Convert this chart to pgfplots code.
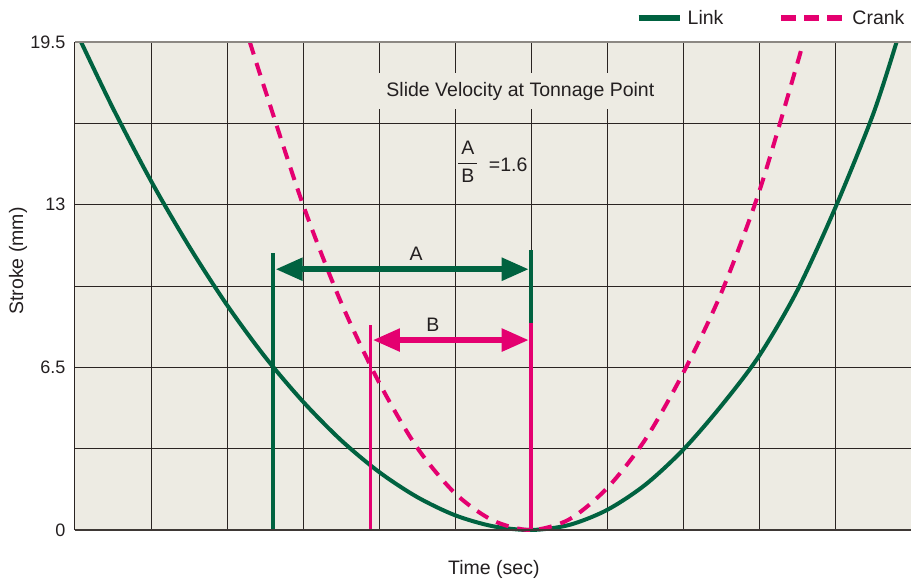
\documentclass[border=0pt]{standalone}
\usepackage{fontspec}
\setmainfont{Liberation Sans}
\usepackage{pgfplots}
\pgfplotsset{compat=1.18}
\usetikzlibrary{arrows.meta,calc}

\definecolor{linkgreen}{RGB}{0,98,64}
\definecolor{crankpink}{RGB}{228,0,112}
\definecolor{bgc}{RGB}{237,235,227}
\definecolor{txt}{RGB}{35,31,32}
\definecolor{gridc}{RGB}{42,36,34}
\definecolor{framec}{RGB}{140,136,131}

\newcommand{\bigfont}{\fontsize{19.5}{22}\selectfont}

\begin{document}
\begin{tikzpicture}
\begin{axis}[
    name=ax,
    scale only axis,
    width=836pt, height=488pt,
    xmin=0, xmax=11, ymin=0, ymax=19.5,
    axis background/.style={fill=bgc},
    axis line style={draw=none},
    xtick={1,2,...,10}, xticklabels={},
    ytick={0,3.25,6.5,9.75,13,16.25,19.5},
    yticklabels={0,,6.5,,13,,19.5},
    major tick length=0pt,
    grid=major,
    grid style={color=gridc, line width=0.9pt},
    tick label style={font=\fontsize{18}{20}\selectfont, text=txt},
    /pgf/number format/assume math mode=true,
    yticklabel style={xshift=-6pt},
    xlabel={Time (sec)},
    ylabel={Stroke (mm)},
    label style={font=\bigfont, text=txt},
    xlabel style={at={(rel axis cs:0.501,-0.08)}, anchor=center},
    ylabel style={at={(rel axis cs:-0.068,0.551)}, anchor=center},
    clip=false,
    legend style={at={(rel axis cs:1.002,1.049)}, anchor=east,
        draw=none, fill=none, legend columns=2,
        font=\bigfont, text=txt,
        nodes={inner xsep=5pt},
        /tikz/every even column/.append style={column sep=50pt}},
]
% Link (solid green)
\addplot[linkgreen, line width=4pt, smooth,
    legend image code/.code={\draw[linkgreen,line width=6pt] (0pt,0pt) -- (41pt,0pt);}]
coordinates {
    (0.08,19.5) (0.5,16.85) (1.0,13.95) (1.5,11.34) (2.0,8.99) (2.5,6.92)
    (3.0,5.13) (3.5,3.59) (4.0,2.32) (4.5,1.32) (5.0,0.59) (5.5,0.15) (6.0,0)
    (6.5,0.2) (7.0,0.8) (7.5,1.8) (8.0,3.2) (8.5,4.95) (9.0,6.95)
    (9.5,9.55) (10.0,12.85) (10.5,16.6) (10.81,19.5)
};
% Crank (dashed pink)
\addplot[crankpink, line width=4pt, smooth, dash pattern=on 13pt off 9pt,
    legend image code/.code={\draw[crankpink,line width=6pt,dash pattern=on 15pt off 8pt] (0pt,0pt) -- (63pt,0pt);}]
coordinates {
    (2.30,19.5) (2.5,17.6) (3.0,13.0) (3.5,9.1) (4.0,5.9) (4.5,3.3)
    (5.0,1.47) (5.5,0.38) (6.0,0)
    (6.5,0.42) (7.0,1.67) (7.5,3.6) (8.0,6.26) (8.5,9.45) (9.0,13.5)
    (9.5,18.6) (9.58,19.5)
};
\legend{Link, Crank}

% dimension lines
\addplot[linkgreen, line width=3.6pt, forget plot] coordinates {(2.605,0) (2.605,11.06)};
\addplot[linkgreen, line width=3.6pt, forget plot] coordinates {(6.0,8.24) (6.0,11.17)};
\addplot[crankpink, line width=3.6pt, forget plot] coordinates {(3.89,0) (3.89,8.19)};
\addplot[crankpink, line width=3.6pt, forget plot] coordinates {(6.0,0) (6.0,8.26)};
\addplot[linkgreen, line width=5.5pt, forget plot,
    {Triangle[length=27pt,width=22pt]}-{Triangle[length=27pt,width=22pt]}]
    coordinates {(2.64,10.42) (5.97,10.42)};
\addplot[crankpink, line width=5.5pt, forget plot,
    {Triangle[length=27pt,width=22pt]}-{Triangle[length=27pt,width=22pt]}]
    coordinates {(3.92,7.59) (5.97,7.59)};

% frame
\draw[framec, line width=2pt] (rel axis cs:0,1) -- (rel axis cs:1,1);
\draw[gridc!80!framec, line width=2pt] (rel axis cs:0,0) -- (rel axis cs:1,0);
\draw[gridc, line width=1pt] (rel axis cs:0,0) -- (rel axis cs:0,1);

% texts
\node[fill=bgc, inner xsep=16pt, inner ysep=9pt, text=txt, font=\bigfont]
    at (axis cs:5.86,17.54) {Slide Velocity at Tonnage Point};
\node[text=txt, font=\bigfont] at (axis cs:4.49,11.05) {A};
\node[text=txt, font=\bigfont] at (axis cs:4.71,8.19) {B};
\node[text=txt, font=\bigfont, inner sep=0pt] at (axis cs:5.17,14.67)
    {\renewcommand{\arraystretch}{1.25}\begin{tabular}{@{\hspace{3pt}}c@{\hspace{3pt}}}A\\\hline B\end{tabular}};
\node[text=txt, font=\bigfont] at (axis cs:5.70,14.59) {=1.6};
\end{axis}
\pgfresetboundingbox
\path[use as bounding box] ($(ax.south west)+(-75pt,-53pt)$) rectangle ($(ax.north east)+(1pt,42pt)$);
\end{tikzpicture}
\end{document}
